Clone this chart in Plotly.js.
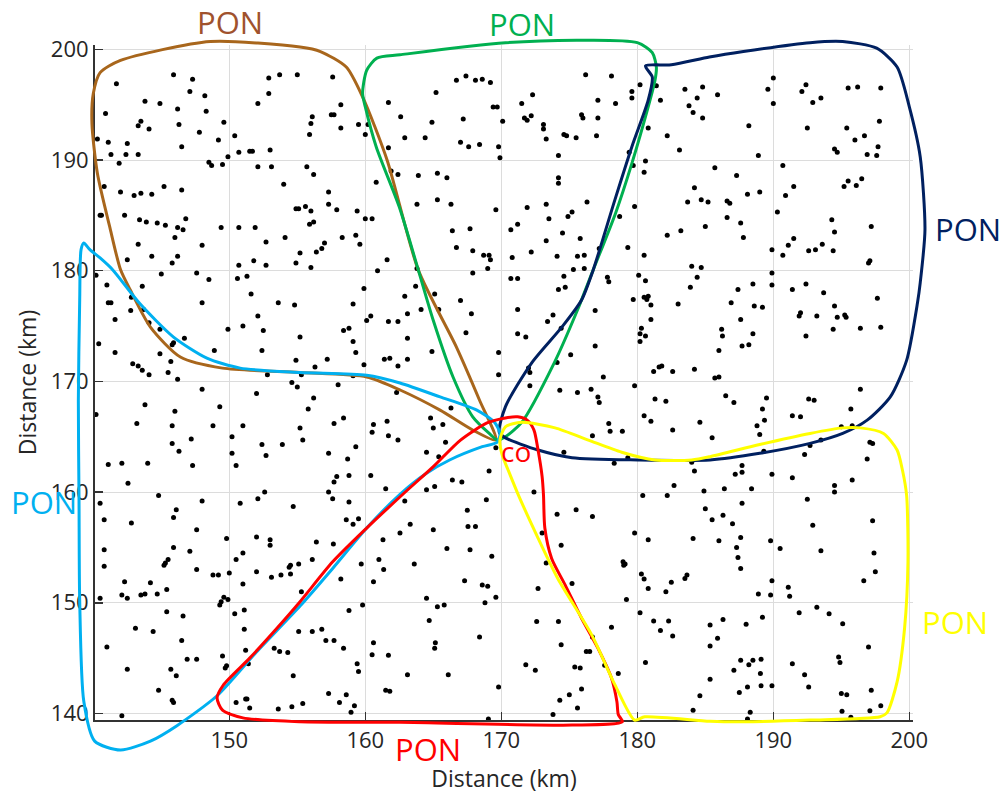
<!DOCTYPE html>
<html><head><meta charset="utf-8">
<script src="https://cdn.plot.ly/plotly-3.0.1.min.js"></script>
<style>html,body{margin:0;padding:0;background:#fff}#chart{width:1004px;height:797px}</style>
</head><body><div id="chart"></div>
<script>
// Node positions (km, km)
const dotPoints = [
[145.9,197.7],[147.3,197.3],[141.7,196.9],[147.1,196.2],[148.2,195.8],[143.8,195.3],[144.9,195.1],[140.9,194.2],[146.2,194.6],[148.3,194.4],[143.5,193.5],[143.3,193.1],[146.3,193.2],[144.1,192.8],[149.6,193.4],[147.8,192.5],[150.4,192.2],[140.3,191.9],[141.1,191.6],[142.5,191.5],[149.2,191.8],[146.5,191.2],[141.3,190.5],[142.4,190.5],[143.3,190.5],[149.9,190.3],[150.7,190.7],[151.5,190.8],[151.7,190.8],[153.0,190.9],[148.5,189.8],[148.7,189.5],[149.5,189.6],[141.9,189.7],[152.1,189.4],[153.1,189.4],[154.0,187.8],[140.8,187.6],[142.0,187.1],[143.0,186.8],[143.5,187.0],[144.3,186.9],[145.2,187.6],[146.5,187.3],[140.5,185.0],[140.6,185.0],[142.3,185.0],[143.4,184.6],[143.9,184.4],[144.7,184.3],[145.3,184.1],[146.2,183.9],[146.6,183.7],[146.8,184.7],[149.4,183.9],[150.7,183.9],[151.9,183.9],[154.9,185.6],[155.1,185.6],[146.0,183.0],[143.3,182.4],[148.0,182.3],[152.7,182.6],[154.1,183.0],[142.5,181.0],[144.3,181.3],[146.2,181.3],[145.8,180.7],[150.7,180.5],[151.8,180.9],[152.7,180.5],[154.9,180.7],[152.9,197.4],[153.7,197.7],[155.0,197.7],[152.9,196.0],[152.1,195.1],[155.2,181.6],
[157.6,197.5],[166.7,197.2],[167.4,197.6],[168.1,197.2],[168.6,197.3],[169.2,197.0],[165.2,196.1],[158.2,195.0],[161.7,195.2],[157.5,194.1],[157.7,194.1],[156.1,193.9],[156.0,193.3],[158.2,192.9],[159.5,193.2],[160.2,193.2],[162.6,193.9],[164.9,193.4],[167.2,193.7],[169.4,194.8],[169.7,194.8],[170.1,193.5],[155.9,192.3],[160.0,192.3],[162.9,192.0],[164.4,192.0],[161.7,191.1],[167.0,191.6],[167.6,191.2],[168.4,191.4],[169.8,191.2],[169.9,190.2],[155.7,189.4],[156.2,188.7],[161.9,189.0],[162.4,188.7],[163.9,188.6],[165.3,188.8],[166.0,188.4],[160.8,188.0],[157.3,187.1],[157.3,186.0],[155.6,185.8],[156.0,185.4],[157.9,185.5],[159.4,185.4],[160.0,184.7],[160.5,184.7],[163.8,186.0],[165.3,186.4],[166.3,186.0],[169.6,185.5],[155.9,184.2],[156.2,184.4],[158.3,183.0],[159.3,183.2],[159.6,182.4],[157.0,182.5],[156.8,182.0],[156.4,181.7],[166.4,183.6],[167.7,183.8],[166.7,182.1],[167.9,181.8],[168.7,181.4],[169.1,181.4],[169.2,181.0],[161.6,181.0],[156.0,180.3],[163.8,180.2],[169.0,180.2],
[176.2,197.7],[178.1,197.6],[180.2,196.8],[181.4,196.7],[172.3,195.9],[171.5,195.1],[179.6,196.2],[179.6,195.6],[177.1,195.4],[178.4,195.1],[181.7,195.4],[183.5,196.4],[184.8,196.6],[184.4,195.6],[183.8,194.9],[184.1,194.3],[184.8,193.8],[171.7,193.8],[171.9,193.6],[172.2,194.0],[173.1,193.2],[173.1,192.8],[175.9,194.1],[176.0,193.8],[177.1,193.8],[173.3,191.9],[174.6,192.3],[174.8,192.2],[175.5,192.0],[177.0,192.2],[180.8,192.9],[182.2,192.2],[183.1,190.9],[179.4,190.7],[174.2,190.4],[180.6,189.9],[179.7,189.5],[180.5,188.9],[174.2,188.4],[174.2,187.9],[184.2,187.5],[183.7,186.2],[184.7,186.4],[185.2,186.2],[173.3,186.0],[176.3,186.2],[171.9,185.7],[173.5,184.7],[174.9,184.9],[175.2,185.3],[178.7,184.9],[179.8,185.8],[171.2,184.2],[170.7,183.7],[174.5,183.4],[173.3,182.7],[175.8,182.9],[182.2,183.2],[183.2,183.6],[185.0,184.0],[170.8,181.2],[172.2,181.7],[174.1,181.3],[175.6,181.3],[176.1,181.4],[177.2,182.0],[179.3,182.1],[180.5,181.4],[175.3,180.1],[176.1,180.2],[184.0,180.4],[184.7,180.3],
[190.0,197.4],[189.6,196.4],[190.0,195.1],[185.9,195.9],[192.4,196.8],[192.1,196.2],[192.9,195.2],[193.5,195.6],[195.5,196.5],[196.2,196.6],[197.9,196.5],[188.2,193.1],[192.5,192.9],[195.4,192.9],[197.8,193.5],[196.0,191.8],[196.7,192.2],[194.5,191.0],[194.7,190.7],[197.7,191.2],[196.9,190.5],[197.6,190.4],[188.9,190.4],[185.7,189.3],[187.3,188.6],[190.7,189.5],[191.5,187.6],[190.9,186.8],[188.1,186.9],[189.0,187.1],[195.2,187.6],[195.5,188.1],[196.1,187.7],[196.5,188.3],[186.6,186.3],[186.8,186.1],[186.6,184.8],[187.6,184.3],[187.8,183.0],[190.3,185.3],[194.3,184.6],[194.5,183.5],[197.2,184.0],[189.9,181.9],[190.7,181.4],[191.1,182.3],[191.5,182.9],[192.6,181.8],[193.1,181.9],[193.6,182.4],[194.4,181.8],[197.0,180.7],[197.1,180.9],
[140.2,179.6],[145.0,179.7],[147.6,179.8],[148.5,179.2],[150.6,179.3],[151.3,179.5],[141.0,178.7],[143.6,178.6],[151.6,177.9],[141.1,177.1],[141.3,177.1],[142.8,177.6],[148.0,177.1],[153.6,177.1],[154.8,176.9],[142.75,176.4],[143.7,176.5],[141.6,175.6],[144.1,175.3],[144.9,174.7],[149.9,174.7],[151.0,175.0],[152.1,175.9],[152.5,174.6],[155.2,174.0],[140.4,173.4],[145.9,173.5],[145.8,173.3],[146.7,173.9],[141.6,172.6],[144.9,172.5],[148.9,172.8],[152.4,172.8],[154.9,171.9],[142.9,171.6],[143.3,171.4],[143.6,171.0],[144.1,170.6],[145.7,171.8],[145.5,170.8],[146.2,170.2],[152.8,170.6],[154.6,169.9],[155.0,169.5],[148.0,169.3],[152.0,168.9],[143.8,167.9],[149.3,167.7],[140.2,167.0],[146.0,167.3],[143.2,166.2],[145.8,166.0],[148.8,166.0],[151.0,166.0],[147.2,164.8],[145.8,164.4],[146.3,163.7],[150.2,165.0],[150.2,163.5],[152.4,164.3],[152.7,163.3],[153.9,164.3],[155.2,165.8],[141.1,162.5],[142.1,162.6],[144.0,162.6],[147.3,162.4],[150.5,162.4],[142.55,160.8],[152.6,160.0],
[160.9,180.0],[167.9,179.8],[159.9,178.4],[163.7,178.6],[162.9,177.7],[165.1,177.9],[167.0,177.3],[159.1,177.0],[164.1,176.5],[163.1,176.1],[165.4,176.5],[167.8,176.1],[160.4,175.9],[160.1,175.5],[161.7,175.4],[162.4,175.4],[158.8,174.8],[158.4,174.6],[159.1,173.6],[163.1,173.9],[167.4,174.4],[159.3,172.6],[164.9,172.7],[169.8,172.6],[157.2,172.0],[161.4,172.0],[161.8,172.1],[163.1,172.0],[156.3,171.3],[159.9,171.5],[162.4,171.4],[169.8,170.6],[155.3,170.6],[159.1,170.5],[158.0,169.7],[162.3,169.0],[156.2,168.5],[155.8,167.5],[158.4,166.7],[157.7,166.2],[160.6,166.1],[160.5,165.4],[161.6,166.4],[161.7,165.1],[162.4,164.7],[166.3,167.6],[164.8,166.7],[165.0,165.8],[165.7,166.1],[165.9,164.5],[155.4,164.7],[159.3,164.1],[157.3,163.5],[158.7,163.0],[164.5,163.6],[165.4,163.2],[169.6,164.0],[169.1,161.9],[160.4,161.5],[158.8,161.5],[157.9,161.4],[157.7,160.9],[157.3,160.0],[161.5,160.3],[164.5,160.2],[165.1,160.5],[166.4,161.1],[167.1,160.9],
[170.7,179.3],[171.2,179.3],[174.6,179.5],[177.8,179.4],[177.9,179.0],[180.1,179.6],[180.6,179.1],[184.4,179.4],[183.9,178.5],[174.2,178.3],[174.7,178.5],[179.7,177.4],[180.5,177.6],[180.8,177.7],[180.7,177.4],[181.0,176.9],[183.0,177.0],[171.2,176.5],[173.4,175.4],[173.8,176.0],[176.9,176.4],[181.0,175.6],[174.4,174.8],[171.2,174.3],[171.8,174.0],[180.3,174.8],[180.2,174.3],[180.6,174.1],[180.2,173.6],[176.9,173.2],[175.1,172.4],[174.1,171.7],[172.0,171.2],[172.1,170.8],[177.5,170.4],[181.2,170.9],[181.6,171.3],[181.8,171.4],[182.6,170.9],[184.2,171.1],[172.1,169.6],[174.3,169.2],[175.6,169.0],[176.6,169.3],[177.1,168.6],[177.2,168.1],[179.8,169.6],[181.3,168.4],[182.1,168.2],[180.5,166.9],[181.0,166.4],[184.6,166.3],[182.6,165.6],[177.9,166.2],[178.0,165.5],[178.9,165.5],[176.7,165.1],[174.6,163.6],[178.3,162.6],[179.3,163.1],[184.0,162.7],[184.2,161.9],[182.7,160.6],[184.9,160.1],[172.4,160.0],
[189.9,179.8],[188.5,178.8],[189.9,178.7],[187.4,178.3],[191.4,178.3],[192.4,178.8],[193.7,178.0],[186.9,177.1],[188.6,176.8],[189.2,176.7],[194.5,176.8],[197.65,177.5],[192.0,176.2],[191.9,175.9],[193.2,175.9],[194.7,175.8],[195.25,176.0],[195.35,175.8],[187.6,175.6],[186.2,174.7],[186.26,174.1],[188.5,174.3],[192.4,174.1],[194.4,174.7],[196.4,174.8],[197.9,174.9],[187.7,173.2],[188.2,173.3],[186.0,172.8],[185.7,170.3],[186.0,170.4],[186.5,168.7],[187.1,168.1],[189.5,168.5],[189.2,167.5],[189.35,166.5],[188.8,166.0],[189.0,165.2],[191.4,166.9],[192.0,166.8],[192.6,168.4],[193.0,168.3],[196.4,169.3],[195.7,167.5],[195.0,165.9],[195.8,166.0],[193.5,164.7],[192.7,164.2],[192.3,163.4],[189.3,163.7],[185.5,164.9],[197.1,164.5],[197.3,164.4],[196.9,163.0],[187.7,162.4],[187.7,161.8],[187.2,161.6],[189.9,161.6],[191.4,161.3],[195.8,161.1],[194.5,160.6],[194.5,160.0],[186.4,160.3],[188.4,160.3],
[144.8,159.7],[140.5,159.0],[146.1,158.4],[148.0,159.2],[150.8,159.0],[152.1,159.4],[154.7,158.7],[140.8,157.5],[142.8,157.2],[145.9,157.7],[147.6,156.6],[149.8,155.8],[152.0,155.95],[153.0,155.7],[153.0,155.2],[140.8,154.8],[140.8,153.3],[145.9,155.0],[147.1,154.65],[145.5,153.9],[145.3,153.6],[145.2,153.4],[147.6,153.0],[150.5,153.9],[151.0,154.5],[152.0,152.8],[153.1,152.3],[153.8,152.5],[154.4,153.2],[154.5,153.4],[154.5,152.6],[155.1,153.5],[148.8,152.5],[149.2,152.5],[150.0,152.7],[151.0,151.7],[142.3,151.9],[144.2,151.8],[145.4,151.2],[142.1,150.7],[142.5,150.4],[143.5,150.7],[143.8,150.8],[144.7,150.8],[140.5,150.4],[149.6,150.5],[149.9,150.3],[149.4,150.1],[149.3,149.8],[145.4,149.2],[146.6,148.8],[150.4,149.0],[151.1,149.35],[151.1,147.6],[143.1,147.7],[144.4,147.4],[146.5,146.6],[141.0,146.0],[151.2,145.7],[153.3,145.9],[153.7,145.6],[154.3,145.5],[155.1,147.4],[146.9,144.9],[147.6,144.9],[149.5,145.2],[149.8,144.3],[149.7,144.1],[151.4,144.5],[142.5,144.0],[145.7,144.0],[146.1,143.4],[154.7,143.4],[144.8,142.1],[145.8,141.2],[145.9,141.0],[150.5,141.0],[151.2,141.3],[151.3,141.3],[151.5,140.5],[153.6,140.4],[154.6,140.6],[142.1,139.8],
[157.6,159.4],[158.8,159.1],[158.6,157.5],[159.1,157.1],[159.5,157.6],[156.4,155.5],[157.65,155.3],[156.1,153.9],[159.7,153.5],[158.2,152.15],[155.3,151.0],[162.9,159.2],[163.3,157.1],[162.55,156.3],[161.3,155.7],[161.0,153.9],[161.35,153.0],[160.6,151.9],[163.6,153.5],[165.0,156.6],[166.0,154.9],[167.5,158.35],[167.55,156.9],[168.1,156.9],[168.9,159.3],[167.7,154.8],[169.3,154.2],[167.3,152.0],[168.6,151.6],[169.0,151.5],[169.6,150.5],[168.8,150.0],[164.5,150.4],[165.3,149.65],[165.8,149.8],[164.7,148.4],[159.8,149.8],[158.8,149.3],[156.1,147.4],[156.8,147.6],[157.1,146.6],[157.7,146.6],[158.4,145.9],[160.6,146.4],[160.5,145.3],[161.7,145.25],[159.4,144.5],[159.5,143.8],[165.15,146.4],[165.1,145.9],[168.4,146.9],[163.1,143.5],[166.1,143.5],[161.5,142.1],[161.8,142.0],[157.3,141.8],[158.6,141.7],[158.1,141.0],[159.2,140.7],[158.95,140.1],[155.4,140.9],[169.8,142.4],[169.05,139.5],
[180.4,159.7],[182.2,159.7],[174.1,158.0],[175.5,158.4],[176.7,157.8],[173.0,156.3],[174.4,155.2],[179.8,156.3],[180.8,155.7],[184.1,155.8],[185.0,158.5],[173.3,153.6],[172.7,151.3],[175.2,151.75],[178.95,153.7],[179.1,153.5],[179.0,153.4],[180.3,152.6],[180.5,152.15],[180.8,151.3],[182.1,151.0],[182.5,151.85],[183.5,152.2],[183.65,152.5],[179.2,150.3],[180.2,149.1],[181.2,148.35],[182.3,148.35],[181.7,147.5],[182.6,147.0],[172.6,148.3],[174.2,148.3],[178.1,147.8],[176.7,146.9],[174.4,146.2],[176.25,145.6],[176.5,145.6],[171.8,144.4],[172.5,143.9],[175.4,144.2],[175.8,144.1],[177.6,144.35],[178.6,143.6],[180.6,144.6],[175.9,142.2],[175.0,141.7],[174.3,141.2],[175.6,140.5],[173.8,139.9],[184.6,141.6],[184.1,140.3],
[187.7,159.0],[192.5,159.35],[185.5,157.5],[186.3,157.9],[187.0,157.15],[186.0,155.6],[187.6,155.9],[187.3,155.0],[187.4,154.1],[187.6,153.1],[189.8,155.6],[190.5,154.9],[192.9,157.0],[193.5,154.7],[197.3,157.4],[197.4,154.5],[197.5,152.8],[196.65,152.0],[189.9,152.0],[191.1,151.4],[191.2,150.6],[188.9,150.8],[189.8,150.7],[193.2,149.6],[191.9,149.1],[194.1,149.0],[195.1,148.1],[189.2,148.7],[188.0,148.05],[186.3,148.5],[185.35,148.0],[185.35,146.1],[185.9,146.8],[197.0,146.0],[187.6,144.8],[188.5,144.8],[189.1,144.9],[188.2,144.4],[187.1,143.9],[189.05,143.6],[191.4,144.5],[194.8,145.1],[194.9,144.6],[192.3,143.5],[185.35,143.1],[187.5,141.9],[188.1,142.4],[189.1,142.5],[189.9,142.5],[192.6,142.4],[195.0,141.8],[195.4,141.7],[197.2,142.1],[188.3,140.1],[188.1,139.5],[195.05,140.2],[195.7,139.65],[197.1,140.25],[197.9,140.7]
];

// PON boundary outlines (km, km)
const brownLoop = [[169.6,164.7],[167.9,165.6],[165.5,167.4],[162.6,169.2],[160.1,170.4],[155.2,170.8],[149.5,171.2],[146.4,172.2],[144.2,174.9],[142.7,178.3],[142.0,180.1],[141.2,184.0],[140.3,188.8],[139.9,193.3],[140.0,196.0],[140.5,197.9],[142.0,199.0],[148.6,200.7],[155.2,200.2],[156.7,199.8],[158.6,198.4],[159.8,195.7],[161.6,190.0],[163.9,180.05],[166.7,173.1],[168.4,168.3],[169.6,164.7]];
const greenLoop = [[169.7,164.7],[169.2,165.2],[167.9,166.8],[166.45,170.4],[165.0,175.5],[163.9,180.05],[162.5,185.75],[160.8,191.2],[160.0,194.8],[159.8,196.0],[160.1,198.1],[160.85,199.2],[162.55,199.5],[170.3,200.6],[180.0,200.6],[181.1,199.7],[181.4,198.4],[181.3,197.2],[180.8,194.8],[179.6,189.7],[178.4,185.2],[176.75,180.05],[175.6,176.45],[173.9,171.7],[171.5,166.3],[170.3,165.0],[169.7,164.7]];
const navyLoop = [[169.85,165.4],[170.3,167.7],[172.25,171.7],[174.45,174.9],[175.9,177.35],[176.75,180.05],[178.35,186.4],[179.6,191.2],[180.8,195.4],[181.1,197.5],[180.6,198.5],[182.5,198.6],[185.3,199.3],[187.8,199.8],[192.7,200.6],[195.1,200.7],[197.6,200.1],[199.1,198.4],[200.0,194.8],[200.8,190.3],[201.15,183.7],[200.8,178.9],[200.6,177.1],[199.8,171.9],[198.6,168.6],[196.9,166.5],[195.1,165.3],[192.7,164.4],[189.0,163.5],[185.35,162.9],[180.05,162.9],[175.2,163.1],[172.7,163.8],[170.3,164.9],[169.85,165.4]];
const cyanLoop = [[169.9,165.3],[169.5,166.3],[168.2,167.4],[165.5,168.6],[162.55,169.85],[160.1,170.55],[155.2,170.8],[150.8,171.2],[148.35,172.1],[145.9,174.0],[143.4,177.05],[141.45,180.05],[140.5,181.15],[139.75,181.9],[139.3,182.5],[139.1,181.9],[139.0,177.35],[138.9,168.3],[138.95,159.3],[139.0,150.2],[139.3,141.1],[140.1,137.5],[142.0,136.7],[144.2,137.5],[146.15,138.9],[149.1,141.6],[152.0,145.55],[155.2,149.7],[157.6,153.1],[160.1,156.75],[162.55,159.8],[164.5,161.7],[166.2,162.9],[168.6,164.1],[169.7,164.5],[169.9,165.3]];
const redLoop = [[162.8,159.85],[165.0,162.3],[167.0,164.7],[168.95,166.25],[170.3,166.7],[171.2,166.8],[171.9,166.5],[172.4,165.6],[172.7,163.8],[173.0,161.4],[173.1,159.75],[173.2,156.75],[173.7,154.0],[174.7,151.6],[175.9,148.6],[177.1,145.9],[178.1,143.2],[178.5,141.05],[178.6,139.9],[178.9,139.25],[175.2,138.95],[162.55,139.2],[155.2,139.25],[151.0,139.6],[149.5,140.3],[149.1,141.4],[149.55,142.55],[151.5,145.0],[153.5,147.7],[155.2,150.1],[157.6,153.7],[160.1,156.75],[162.8,159.85]];
const yellowLoop = [[170.3,165.9],[171.5,166.3],[173.95,165.8],[176.4,164.7],[178.85,163.6],[181.3,162.9],[184.0,162.9],[185.35,163.2],[189.0,164.3],[192.7,165.3],[195.1,165.8],[196.4,165.8],[198.1,165.3],[199.1,163.8],[199.5,161.95],[199.8,159.7],[199.9,153.7],[199.65,147.7],[199.1,142.85],[198.35,140.05],[197.85,139.7],[192.7,139.4],[187.8,139.25],[185.35,139.3],[180.55,139.7],[179.8,139.4],[178.35,142.6],[176.65,147.1],[174.15,152.2],[172.7,155.85],[171.25,159.75],[170.5,162.0],[170.05,163.4],[169.9,164.7],[170.3,165.9]];

const loopColors = ['#A8661C','#00B050','#002060','#00B0F0','#FF0000','#FFFF00'];
const loops = [brownLoop, greenLoop, navyLoop, cyanLoop, redLoop, yellowLoop];

// PON labels: x, y (km), colour
const labelText = 'PON';
const labelX = [150.05, 171.5, 204.3, 136.4, 164.6, 203.35];
const labelY = [202.45, 202.3, 183.75, 159.1, 136.75, 148.3];
const labelColors = ['#A0522D','#00B050','#002060','#00B0F0','#FF0000','#FFFF00'];
const coLabel = {text:'co', x:171.1, y:163.7};

const xTicks = [150,160,170,180,190,200];
const yTicks = [140,150,160,170,180,190,200];

// layout geometry
const W = 1004, H = 797;
const M = {l:8, r:8, t:4, b:4};
const box = {left:95, right:913, top:45, bottom:720};
const xr = [140.125, 200.27], yr = [139.41, 200.39];
const pw = W - M.l - M.r, ph = H - M.t - M.b;
const xd = [(box.left - M.l)/pw, (box.right - M.l)/pw];
const yd = [(H - M.b - box.bottom)/ph, (H - M.b - box.top)/ph];
function extend(r, d){ const s=(r[1]-r[0])/(d[1]-d[0]); return [r[0]-d[0]*s, r[1]+(1-d[1])*s]; }
const x2r = extend(xr, xd), y2r = extend(yr, yd);

const FONT = 'Open Sans, Noto Sans, sans-serif';
const TXT = '#262626';

const traces = [{
  type:'scatter', mode:'markers', x: dotPoints.map(p=>p[0]), y: dotPoints.map(p=>p[1]),
  xaxis:'x', yaxis:'y', marker:{size:5, color:'#000'}, hoverinfo:'skip', showlegend:false
}];
loops.forEach((lp,i)=>{
  traces.push({type:'scatter', mode:'lines', x: lp.map(p=>p[0]), y: lp.map(p=>p[1]),
    xaxis:'x2', yaxis:'y2', line:{color:loopColors[i], width:3, shape:'spline', smoothing:0.7},
    hoverinfo:'skip', showlegend:false});
});

const annotations = labelX.map((x,i)=>({x:x, y:labelY[i], xref:'x2', yref:'y2', text:labelText,
  showarrow:false, font:{family:FONT, size:31, color:labelColors[i]}}));
annotations.push({x:coLabel.x, y:coLabel.y, xref:'x2', yref:'y2', text:coLabel.text, showarrow:false,
  font:{family:FONT, size:28, color:'#FF0000'}});

const axisCommon = {showgrid:true, gridcolor:'#dcdcdc', gridwidth:1, zeroline:false,
  showline:true, linecolor:'#333333', linewidth:2, ticks:'inside', ticklen:8, tickwidth:1.5, tickcolor:'#333333',
  tickfont:{family:FONT, size:22, color:TXT}};

const layout = {
  width:W, height:H, margin:M, paper_bgcolor:'#fff', plot_bgcolor:'rgba(0,0,0,0)', showlegend:false,
  xaxis: Object.assign({}, axisCommon, {domain:xd, range:xr, tickmode:'array', tickvals:xTicks, anchor:'y',
    title:{text:'Distance (km)', font:{family:FONT, size:23, color:TXT}, standoff:17}}),
  yaxis: Object.assign({}, axisCommon, {domain:yd, range:yr, tickmode:'array', tickvals:yTicks, anchor:'x',
    title:{text:'Distance (km)', font:{family:FONT, size:23, color:TXT}, standoff:8}}),
  xaxis2:{domain:[0,1], range:x2r, visible:false, anchor:'y2', fixedrange:true},
  yaxis2:{domain:[0,1], range:y2r, visible:false, anchor:'x2', fixedrange:true},
  annotations: annotations
};
Plotly.newPlot('chart', traces, layout, {displayModeBar:false, staticPlot:true});
</script></body></html>
